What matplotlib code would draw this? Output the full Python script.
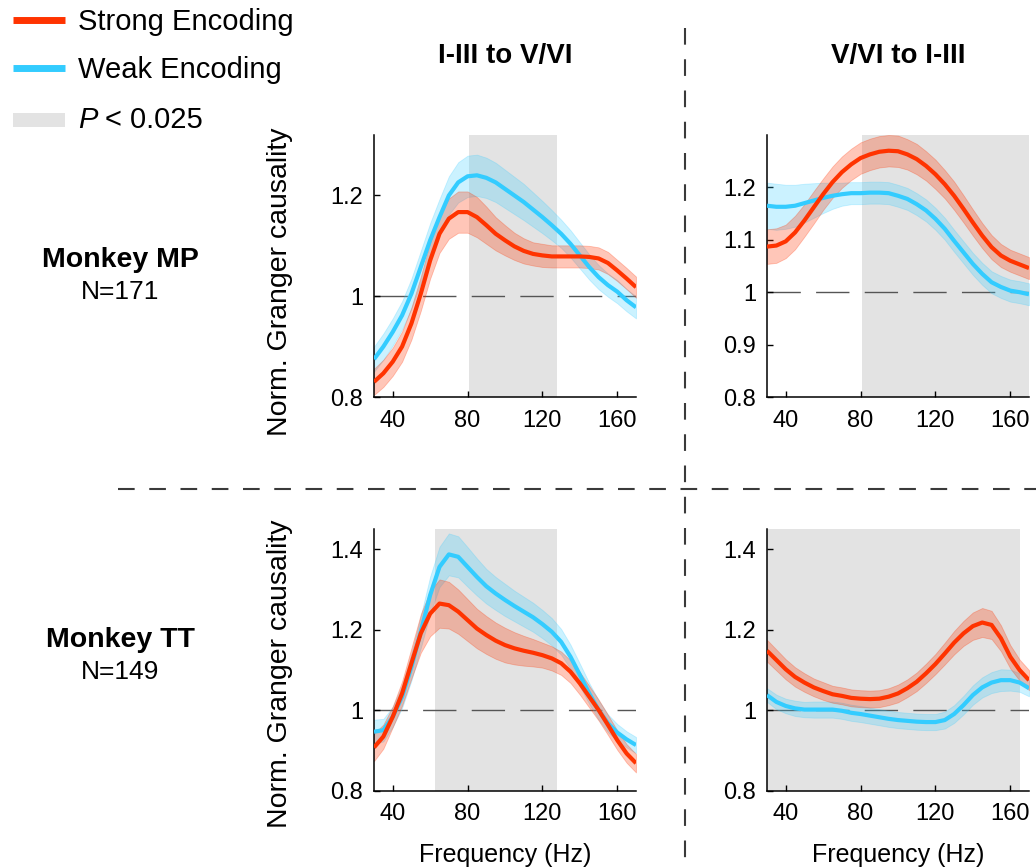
import numpy as np
import matplotlib
matplotlib.use("Agg")
import matplotlib.pyplot as plt
from matplotlib.lines import Line2D
from matplotlib.patches import Rectangle
from matplotlib.ticker import FormatStrFormatter

plt.rcParams['font.family'] = ['Liberation Sans', 'DejaVu Sans']

# ---------------------------------------------------------------- data
freqs = np.arange(30, 171, 5)  # Hz

# Monkey MP, I-III to V/VI
mp_ff_strong = [0.830, 0.847, 0.870, 0.900, 0.946, 1.005, 1.071, 1.124, 1.154, 1.167,
                1.167, 1.157, 1.141, 1.124, 1.111, 1.099, 1.090, 1.084, 1.081, 1.079,
                1.079, 1.079, 1.079, 1.078, 1.075, 1.066, 1.051, 1.035, 1.018]
mp_ff_strong_sem = [0.026, 0.027, 0.028, 0.030, 0.032, 0.034, 0.036, 0.038, 0.040, 0.041,
                    0.041, 0.040, 0.037, 0.033, 0.030, 0.027, 0.025, 0.023, 0.023, 0.022,
                    0.022, 0.022, 0.022, 0.022, 0.022, 0.022, 0.021, 0.021, 0.021]
mp_ff_weak = [0.875, 0.900, 0.929, 0.962, 1.005, 1.058, 1.111, 1.157, 1.200, 1.226,
              1.238, 1.240, 1.235, 1.226, 1.213, 1.200, 1.187, 1.172, 1.157, 1.141,
              1.124, 1.104, 1.081, 1.058, 1.038, 1.022, 1.009, 0.992, 0.978]
mp_ff_weak_sem = [0.025, 0.026, 0.027, 0.028, 0.030, 0.032, 0.034, 0.036, 0.038, 0.040,
                  0.041, 0.041, 0.040, 0.039, 0.038, 0.037, 0.036, 0.034, 0.032, 0.030,
                  0.028, 0.027, 0.026, 0.025, 0.024, 0.023, 0.023, 0.022, 0.022]

# Monkey MP, V/VI to I-III
mp_fb_strong = [1.087, 1.089, 1.097, 1.114, 1.137, 1.162, 1.187, 1.210, 1.229, 1.244,
                1.256, 1.263, 1.268, 1.270, 1.269, 1.263, 1.254, 1.241, 1.225, 1.206,
                1.184, 1.159, 1.133, 1.108, 1.086, 1.070, 1.060, 1.053, 1.046]
mp_fb_strong_sem = [0.033, 0.033, 0.032, 0.032, 0.031, 0.031, 0.030, 0.030, 0.030, 0.030,
                    0.030, 0.030, 0.030, 0.030, 0.030, 0.029, 0.029, 0.028, 0.028, 0.027,
                    0.027, 0.026, 0.025, 0.024, 0.023, 0.022, 0.021, 0.021, 0.021]
mp_fb_weak = [1.165, 1.163, 1.163, 1.165, 1.170, 1.175, 1.180, 1.184, 1.187, 1.189,
              1.189, 1.190, 1.190, 1.189, 1.184, 1.178, 1.168, 1.156, 1.140, 1.121,
              1.098, 1.076, 1.054, 1.035, 1.019, 1.010, 1.003, 1.000, 0.996]
mp_fb_weak_sem = [0.044, 0.044, 0.042, 0.040, 0.037, 0.033, 0.029, 0.025, 0.022, 0.021,
                  0.021, 0.021, 0.021, 0.021, 0.021, 0.021, 0.021, 0.021, 0.021, 0.021,
                  0.021, 0.021, 0.021, 0.021, 0.021, 0.021, 0.021, 0.021, 0.021]

# Monkey TT, I-III to V/VI
tt_ff_strong = [0.908, 0.935, 0.984, 1.042, 1.117, 1.191, 1.240, 1.265, 1.261, 1.245,
                1.224, 1.203, 1.187, 1.173, 1.162, 1.154, 1.148, 1.143, 1.137, 1.129,
                1.117, 1.096, 1.067, 1.034, 1.001, 0.964, 0.926, 0.893, 0.869]
tt_ff_strong_sem = [0.034, 0.030, 0.026, 0.030, 0.038, 0.048, 0.056, 0.060, 0.058, 0.055,
                    0.052, 0.049, 0.047, 0.045, 0.043, 0.040, 0.037, 0.034, 0.031, 0.030,
                    0.029, 0.028, 0.028, 0.027, 0.026, 0.025, 0.024, 0.023, 0.023]
tt_ff_weak = [0.947, 0.951, 0.984, 1.034, 1.108, 1.195, 1.286, 1.356, 1.387, 1.381,
              1.356, 1.331, 1.308, 1.290, 1.274, 1.259, 1.245, 1.231, 1.214, 1.195,
              1.170, 1.133, 1.088, 1.042, 1.001, 0.968, 0.945, 0.928, 0.914]
tt_ff_weak_sem = [0.030, 0.028, 0.025, 0.028, 0.034, 0.040, 0.046, 0.050, 0.052, 0.051,
                  0.049, 0.046, 0.043, 0.041, 0.040, 0.038, 0.037, 0.036, 0.035, 0.034,
                  0.032, 0.030, 0.028, 0.026, 0.024, 0.022, 0.021, 0.020, 0.020]

# Monkey TT, V/VI to I-III
tt_fb_strong = [1.148, 1.125, 1.102, 1.083, 1.069, 1.057, 1.048, 1.040, 1.036, 1.031,
                1.029, 1.028, 1.029, 1.034, 1.042, 1.055, 1.071, 1.092, 1.115, 1.141,
                1.168, 1.191, 1.209, 1.218, 1.212, 1.179, 1.133, 1.100, 1.075]
tt_fb_strong_sem = [0.027, 0.026, 0.025, 0.024, 0.023, 0.022, 0.022, 0.021, 0.021, 0.021,
                    0.021, 0.021, 0.021, 0.021, 0.022, 0.022, 0.023, 0.024, 0.025, 0.027,
                    0.029, 0.031, 0.034, 0.036, 0.035, 0.032, 0.029, 0.026, 0.025]
tt_fb_weak = [1.038, 1.021, 1.011, 1.005, 1.002, 1.002, 1.002, 1.002, 0.999, 0.994,
              0.991, 0.987, 0.983, 0.979, 0.976, 0.974, 0.972, 0.971, 0.971, 0.976,
              0.991, 1.013, 1.038, 1.057, 1.069, 1.075, 1.075, 1.069, 1.055]
tt_fb_weak_sem = [0.017, 0.018, 0.018, 0.019, 0.019, 0.020, 0.020, 0.020, 0.020, 0.020,
                  0.020, 0.020, 0.020, 0.020, 0.020, 0.020, 0.020, 0.020, 0.020, 0.021,
                  0.022, 0.023, 0.024, 0.025, 0.026, 0.027, 0.026, 0.023, 0.020]

# significant frequency ranges (P < 0.025)
sig_mp_ff = (81, 128)
sig_mp_fb = (81, 170)
sig_tt_ff = (62.5, 128)
sig_tt_fb = (30, 165)

col_titles = ["I-III to V/VI", "V/VI to I-III"]
row_names = ["Monkey MP", "Monkey TT"]
row_counts = ["N=171", "N=149"]
legend_labels = ["Strong Encoding", "Weak Encoding"]

x_ticks = [40, 80, 120, 160]
y_ticks_mp_ff = [0.8, 1.0, 1.2]
y_ticks_mp_fb = [0.8, 0.9, 1.0, 1.1, 1.2]
y_ticks_tt = [0.8, 1.0, 1.2, 1.4]
ylim_mp_ff = (0.8, 1.32)
ylim_mp_fb = (0.8, 1.30)
ylim_tt = (0.8, 1.45)

# ---------------------------------------------------------------- style
RED = "#FF3300"
BLUE = "#33CCFF"
SHADE = "#E3E3E3"
W, H = 1036, 867

fig = plt.figure(figsize=(W / 100, H / 100), dpi=100)


def fx(px):
    return px / W


def fy(py):
    return 1 - py / H


panels = [
    # (left px, bottom px, strong, strong sem, weak, weak sem, sig, yticks, ylim)
    (374, 397, mp_ff_strong, mp_ff_strong_sem, mp_ff_weak, mp_ff_weak_sem,
     sig_mp_ff, y_ticks_mp_ff, ylim_mp_ff),
    (767, 397, mp_fb_strong, mp_fb_strong_sem, mp_fb_weak, mp_fb_weak_sem,
     sig_mp_fb, y_ticks_mp_fb, ylim_mp_fb),
    (374, 791, tt_ff_strong, tt_ff_strong_sem, tt_ff_weak, tt_ff_weak_sem,
     sig_tt_ff, y_ticks_tt, ylim_tt),
    (767, 791, tt_fb_strong, tt_fb_strong_sem, tt_fb_weak, tt_fb_weak_sem,
     sig_tt_fb, y_ticks_tt, ylim_tt),
]

AX_W, AX_H = 262, 262
axes = []
for (lpx, bpx, s, s_sem, w, w_sem, sig, yt, yl) in panels:
    ax = fig.add_axes([fx(lpx), fy(bpx), AX_W / W, AX_H / H])
    ax.axvspan(sig[0], sig[1], color=SHADE, lw=0, zorder=0)
    ax.axhline(1.0, color="#555555", lw=1.0, ls=(0, (24, 11)), zorder=1)
    for mean, sem, col, a in ((w, w_sem, BLUE, 0.25), (s, s_sem, RED, 0.28)):
        mean = np.asarray(mean)
        sem = np.asarray(sem)
        ax.fill_between(freqs, mean - sem, mean + sem, facecolor=col, alpha=a,
                        edgecolor=col, lw=0.6, zorder=2)
    ax.plot(freqs, w, color=BLUE, lw=3.0, zorder=3, solid_capstyle="butt",
            solid_joinstyle="round")
    ax.plot(freqs, s, color=RED, lw=3.0, zorder=4, solid_capstyle="butt",
            solid_joinstyle="round")
    ax.set_xlim(30, 170)
    ax.set_ylim(*yl)
    ax.set_xticks(x_ticks)
    ax.set_yticks(yt)
    ax.yaxis.set_major_formatter(FormatStrFormatter("%g"))
    for side in ("top", "right"):
        ax.spines[side].set_visible(False)
    for side in ("left", "bottom"):
        ax.spines[side].set_linewidth(1.1)
        ax.spines[side].set_color("black")
    ax.tick_params(direction="in", length=4, width=1.0, labelsize=17,
                   colors="black")
    ax.tick_params(axis="x", pad=9)
    ax.tick_params(axis="y", pad=8)
    ax.set_facecolor("white")
    axes.append(ax)

# column titles
for ax, title in zip(axes[:2], col_titles):
    pos = ax.get_position()
    fig.text(pos.x0 + pos.width / 2, fy(63), title, ha="center", va="baseline",
             fontsize=20, fontweight="bold")

# row labels
for name, count, base in zip(row_names, row_counts, (267, 647)):
    fig.text(fx(120), fy(base), name, ha="center", va="baseline",
             fontsize=20.5, fontweight="bold")
    fig.text(fx(120), fy(base + 32), count, ha="center", va="baseline",
             fontsize=19)

# y labels
for yc in (281.5, 673.5):
    fig.text(fx(280), fy(yc), "Norm. Granger causality", rotation=90,
             ha="center", va="center", fontsize=20.5)

# x labels
for ax in axes[2:]:
    pos = ax.get_position()
    fig.text(pos.x0 + pos.width / 2, fy(862), "Frequency (Hz)", ha="center",
             va="baseline", fontsize=18)

# dashed dividers
fig.add_artist(Line2D([fx(685), fx(685)], [fy(28), 0], color="#3a3a3a",
                      lw=1.5, ls=(0, (8, 7))))
fig.add_artist(Line2D([fx(118), 1], [fy(489), fy(489)], color="#3a3a3a",
                      lw=1.5, ls=(0, (8, 7))))

# legend
for label, col, ypx in zip(legend_labels, (RED, BLUE), (20, 68)):
    fig.add_artist(Line2D([fx(13), fx(65)], [fy(ypx), fy(ypx)], color=col,
                          lw=5, solid_capstyle="butt"))
    fig.text(fx(78), fy(ypx + 10), label, ha="left", va="baseline", fontsize=21)
fig.add_artist(Rectangle((fx(13), fy(127)), fx(52), 14 / H, color=SHADE,
                         transform=fig.transFigure, lw=0))
fig.text(fx(78), fy(128), "P", ha="left", va="baseline", fontsize=21,
         fontstyle="italic")
fig.text(fx(105), fy(128), "< 0.025", ha="left", va="baseline", fontsize=21)

fig.savefig("out.png", dpi=100, facecolor="white")
